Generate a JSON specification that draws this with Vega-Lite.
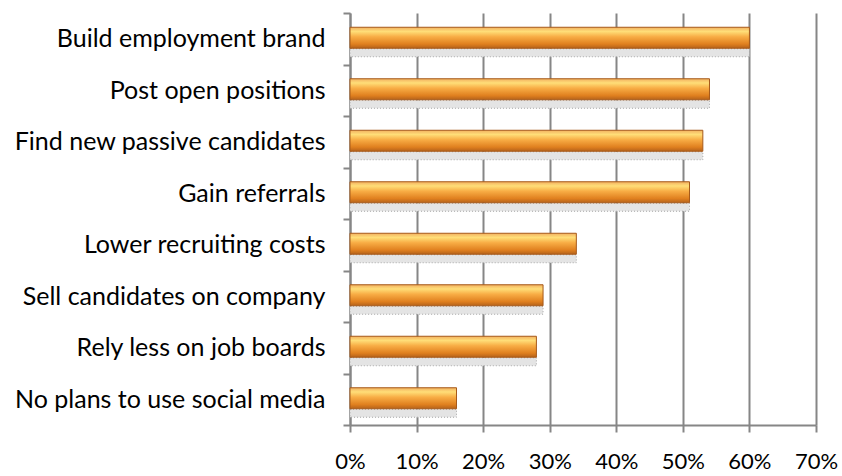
{
  "$schema": "https://vega.github.io/schema/vega-lite/v6.json",
  "autosize": {"type": "none"},
  "width": 466,
  "height": 412,
  "padding": {"left": 350, "top": 13, "right": 26, "bottom": 51},
  "background": "white",
  "config": {
    "view": {"stroke": null},
    "font": "Lato"
  },
  "data": {
    "values": [
      {"category": "Build employment brand", "pct": 0.60},
      {"category": "Post open positions", "pct": 0.54},
      {"category": "Find new passive candidates", "pct": 0.53},
      {"category": "Gain referrals", "pct": 0.51},
      {"category": "Lower recruiting costs", "pct": 0.34},
      {"category": "Sell candidates on company", "pct": 0.29},
      {"category": "Rely less on job boards", "pct": 0.28},
      {"category": "No plans to use social media", "pct": 0.16}
    ]
  },
  "encoding": {
    "y": {
      "field": "category",
      "type": "nominal",
      "sort": null,
      "scale": {"paddingInner": 0, "paddingOuter": 0},
      "axis": {
        "title": null,
        "tickBand": "extent",
        "tickSize": 7,
        "tickWidth": 2,
        "tickColor": "#868686",
        "domainColor": "#868686",
        "domainWidth": 2,
        "labelFont": "Lato",
        "labelFontSize": 25,
        "labelColor": "#000000",
        "labelPadding": 18,
        "labelLimit": 400,
        "grid": false
      }
    },
    "x": {
      "field": "pct",
      "type": "quantitative",
      "scale": {"domain": [0, 0.7], "nice": false},
      "axis": {
        "title": null,
        "format": ".0%",
        "values": [0, 0.1, 0.2, 0.3, 0.4, 0.5, 0.6, 0.7],
        "grid": true,
        "gridColor": "#868686",
        "gridWidth": 2,
        "tickSize": 7,
        "tickWidth": 2,
        "tickColor": "#868686",
        "domainColor": "#868686",
        "domainWidth": 2,
        "labelFont": "Lato",
        "labelFontSize": 22,
        "labelColor": "#000000",
        "labelPadding": 19,
        "labelFlush": false
      }
    }
  },
  "layer": [
    {
      "mark": {
        "type": "bar",
        "size": 8,
        "yOffset": 14,
        "color": "#e4e4e4",
        "stroke": "#a6a6a6",
        "strokeWidth": 1,
        "strokeDash": [1, 2],
        "cornerRadius": 0
      }
    },
    {
      "mark": {
        "type": "bar",
        "size": 21,
        "yOffset": -1,
        "stroke": "#a65a1a",
        "strokeWidth": 1,
        "color": {
          "gradient": "linear",
          "x1": 0, "y1": 0, "x2": 0, "y2": 1,
          "stops": [
            {"offset": 0, "color": "#f2b060"},
            {"offset": 0.2, "color": "#ffde78"},
            {"offset": 0.45, "color": "#f8ad45"},
            {"offset": 0.8, "color": "#e0801f"},
            {"offset": 1, "color": "#b5621a"}
          ]
        }
      }
    }
  ]
}
